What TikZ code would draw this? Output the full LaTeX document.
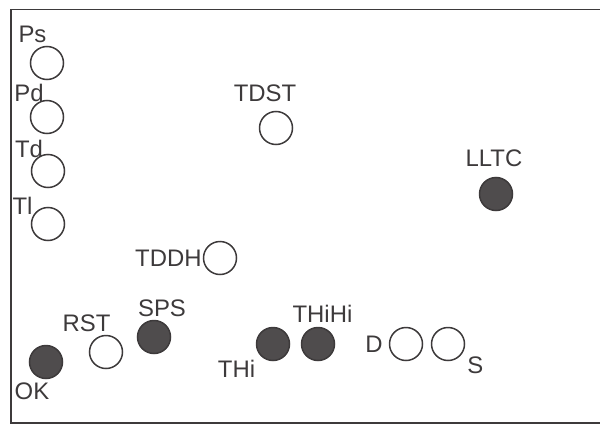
\documentclass[tikz,border=0pt]{standalone}
\usepackage{fontspec}
\setmainfont{Liberation Sans}
\usepackage{tikz}
\usetikzlibrary{positioning}
\usepackage{xcolor}
\definecolor{Ink}{cmyk}{0, 0, 0, 0.88}
\definecolor{DotFill}{cmyk}{0, 0, 0, 0.80}
\tikzset{%
  empty_dot/.style={%
    circle,%
    draw=Ink,%
    line width=1.5bp,%
    minimum size=33bp,%
    inner sep=0pt,%
  },
  full_dot/.style={%
    empty_dot,%
    fill=DotFill,%
  },
  dot_label/.style={%
    inner sep=0pt,%
    text height=17.2bp,%
    text depth=0pt,%
    text=Ink,%
    font={\fontsize{24}{24}\selectfont},%
  },
  frame_line/.style={%
    draw=Ink,%
    line width=1.5bp,%
  },
}

\begin{document}
\begin{tikzpicture}[x=1bp, y=1bp]
    \useasboundingbox (0, 0) rectangle (600, 424);
    \draw [frame_line] (11, 1) rectangle (603, 414.5);

    % left column
    \node [empty_dot] (Ps) at (47, 361) {};
    \node [empty_dot] (Pd) at (47, 307) {};
    \node [empty_dot] (Td) at (48, 253) {};
    \node [empty_dot] (Tl) at (48, 200) {};
    \node [dot_label, above = 3 of Ps, xshift=-14.5bp] (Ps_label) {%
      Ps%
    };
    \node [dot_label, above = -2 of Pd, xshift=-18bp] (Pd_label) {%
      Pd%
    };
    \node [dot_label, above = -4 of Td, xshift=-19bp] (Td_label) {%
      Td%
    };
    \node [dot_label, above = -8 of Tl, xshift=-25.5bp] (Tl_label) {%
      Tl%
    };

    % middle and right
    \node [empty_dot] (TDST) at (276, 296) {};
    \node [empty_dot] (TDDH) at (220, 166) {};
    \node [full_dot] (LLTC) at (496, 230) {};
    \node [dot_label, above = 9 of TDST, xshift=-11bp] (TDST_label) {%
      TDST%
    };
    \node [dot_label, left = 1 of TDDH] (TDDH_label) {%
      TDDH%
    };
    \node [dot_label, above = 10 of LLTC, xshift=-2bp] (LLTC_label) {%
      LLTC%
    };

    % bottom row
    \node [full_dot] (OK) at (46, 62) {};
    \node [empty_dot] (RST) at (106, 72) {};
    \node [full_dot] (SPS) at (154, 87) {};
    \node [full_dot] (THi) at (273, 80) {};
    \node [full_dot] (THiHi) at (318, 80) {};
    \node [empty_dot] (D) at (406, 80) {};
    \node [empty_dot] (S) at (448, 80) {};
    \node [dot_label, below = 3 of OK, xshift=-14bp] (OK_label) {%
      OK%
    };
    \node [dot_label, above = 3 of RST, xshift=-19.5bp] (RST_label) {%
      RST%
    };
    \node [dot_label, above = 3 of SPS, xshift=8bp] (SPS_label) {%
      SPS%
    };
    \node [dot_label, below = -1 of THi, xshift=-36.5bp] (THi_label) {%
      THi%
    };
    \node [dot_label, above = 4 of THiHi, xshift=4.5bp] (THiHi_label) {%
      THiHi%
    };
    \node [dot_label, left = 6 of D] (D_label) {%
      D%
    };
    \node [dot_label, below right = 0 and 7 of S] (S_label) {%
      S%
    };
  \end{tikzpicture}
\end{document}
